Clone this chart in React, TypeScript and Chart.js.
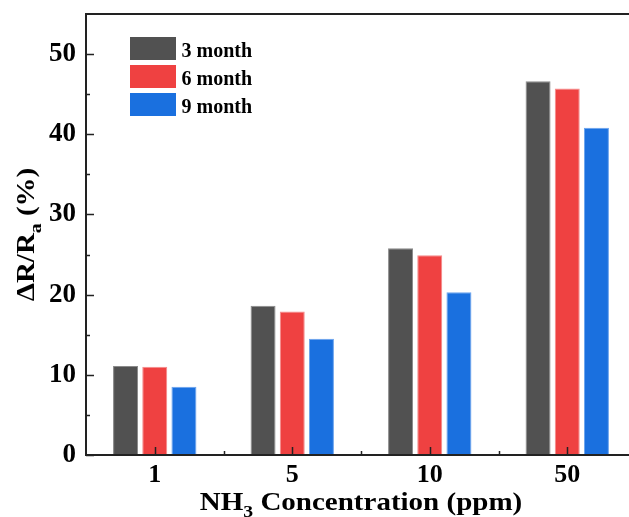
import React, { useEffect, useRef } from "react";
import { Chart, registerables } from "chart.js";
Chart.register(...registerables);

const categories = ["1", "5", "10", "50"];
const series3 = [11.1, 18.6, 25.8, 46.6];
const series6 = [11.0, 17.9, 24.9, 45.7];
const series9 = [8.5, 14.5, 20.3, 40.8];
const seriesNames = ["3 month", "6 month", "9 month"];
const seriesColors = ["#515151", "#EF4141", "#1A70DF"];
const seriesBorders = ["#8a8a8a", "#f58a8a", "#6aa3ee"];
const yMajorTicks = [0, 10, 20, 30, 40, 50];
const yMinorTicks = [5, 15, 25, 35, 45];
const yMax = 55;

const FONT = "'Liberation Serif', 'Times New Roman', serif";
const AXIS = "#222222";

type Part = { text: string; sub?: boolean };

function drawRich(ctx: CanvasRenderingContext2D, parts: Part[], cx: number, baseline: number, size: number, sx: number) {
  const subSize = Math.round(size * 0.68);
  let total = 0;
  const widths = parts.map((p) => {
    ctx.font = `bold ${p.sub ? subSize : size}px ${FONT}`;
    const w = ctx.measureText(p.text).width;
    total += w;
    return w;
  });
  ctx.save();
  ctx.translate(cx, baseline);
  ctx.scale(sx, 1);
  let x = -total / 2;
  ctx.textAlign = "left";
  ctx.textBaseline = "alphabetic";
  parts.forEach((p, i) => {
    ctx.font = `bold ${p.sub ? subSize : size}px ${FONT}`;
    ctx.fillText(p.text, x, p.sub ? size * 0.28 : 0);
    x += widths[i];
  });
  ctx.restore();
}

const decorPlugin = {
  id: "decor",
  afterDraw(chart: any) {
    const ctx: CanvasRenderingContext2D = chart.ctx;
    const { left, top, bottom } = chart.chartArea;
    const xs = chart.scales.x;
    const ys = chart.scales.y;
    ctx.save();
    ctx.strokeStyle = AXIS;
    ctx.fillStyle = "#000";
    ctx.lineWidth = 2;
    // frame
    ctx.beginPath();
    ctx.moveTo(left, top);
    ctx.lineTo(chart.width, top);
    ctx.moveTo(left, top - 1);
    ctx.lineTo(left, bottom + 1);
    ctx.moveTo(left - 1, bottom);
    ctx.lineTo(chart.width, bottom);
    ctx.stroke();
    // y ticks (inward)
    ctx.lineWidth = 1.5;
    ctx.beginPath();
    yMajorTicks.forEach((v) => {
      const y = Math.round(ys.getPixelForValue(v)) + 0.5;
      ctx.moveTo(left, y);
      ctx.lineTo(left + 8, y);
    });
    yMinorTicks.forEach((v) => {
      const y = Math.round(ys.getPixelForValue(v)) + 0.5;
      ctx.moveTo(left, y);
      ctx.lineTo(left + 4, y);
    });
    // x ticks (inward)
    categories.forEach((_, i) => {
      const x = Math.round(xs.getPixelForValue(i)) + 0.5;
      ctx.moveTo(x, bottom);
      ctx.lineTo(x, bottom - 8);
      if (i > 0) {
        const xm = Math.round((xs.getPixelForValue(i) + xs.getPixelForValue(i - 1)) / 2) + 0.5;
        ctx.moveTo(xm, bottom);
        ctx.lineTo(xm, bottom - 4);
      }
    });
    ctx.stroke();

    // legend
    const dsets = chart.data.datasets;
    dsets.forEach((ds: any, i: number) => {
      const by = 37 + i * 28;
      ctx.fillStyle = ds.backgroundColor;
      ctx.fillRect(130, by, 46, 23);
      ctx.fillStyle = "#000";
      ctx.font = `bold 20px ${FONT}`;
      ctx.textAlign = "left";
      ctx.textBaseline = "alphabetic";
      ctx.fillText(ds.label, 181.5, by + 19.7);
    });

    // x title
    ctx.fillStyle = "#000";
    drawRich(ctx, [{ text: "NH" }, { text: "3", sub: true }, { text: " Concentration (ppm)" }], 361, 509.5, 25, 1.16);

    // y title
    ctx.save();
    ctx.translate(33.5, 234.5);
    ctx.rotate(-Math.PI / 2);
    drawRich(ctx, [{ text: "\u0394R/R" }, { text: "a", sub: true }, { text: " (%)" }], 0, 0, 25, 1.16);
    ctx.restore();

    ctx.restore();
  },
};

export default function App() {
  const ref = useRef<HTMLCanvasElement>(null);
  useEffect(() => {
    if (!ref.current) return;
    const allSeries = [series3, series6, series9];
    const chart = new Chart(ref.current, {
      type: "bar",
      data: {
        labels: categories,
        datasets: allSeries.map((s, i) => ({
          label: seriesNames[i],
          data: s,
          backgroundColor: seriesColors[i],
          borderColor: seriesBorders[i],
          borderWidth: 1,
          categoryPercentage: 0.637,
          barPercentage: 0.856,
        })),
      },
      options: {
        responsive: false,
        animation: false,
        devicePixelRatio: 1,
        layout: { padding: { left: 0, top: 14, right: 4, bottom: 0 } },
        plugins: { legend: { display: false }, tooltip: { enabled: false } },
        scales: {
          x: {
            grid: { display: false, drawTicks: false },
            border: { display: false },
            ticks: {
              color: "#000",
              padding: 5,
              font: { family: FONT, size: 26, weight: "bold" },
            },
            afterFit(scale: any) {
              scale.height = 62;
              scale.paddingLeft = 0;
              scale.paddingRight = 0;
            },
          },
          y: {
            min: 0,
            max: yMax,
            grid: { display: false, drawTicks: false },
            border: { display: false },
            ticks: {
              color: "#000",
              padding: 10,
              font: { family: FONT, size: 27, weight: "bold" },
            },
            afterBuildTicks(scale: any) {
              scale.ticks = yMajorTicks.map((v) => ({ value: v }));
            },
            afterFit(scale: any) {
              scale.width = 86;
              scale.paddingTop = 0;
              scale.paddingBottom = 0;
            },
          },
        },
      },
      plugins: [decorPlugin],
    } as any);
    return () => chart.destroy();
  }, []);
  return (
    <div style={{ position: "absolute", left: 0, top: 0, width: 629, height: 517, overflow: "hidden", background: "#fff" }}>
      <canvas ref={ref} width={640} height={517} style={{ display: "block" }} />
    </div>
  );
}
